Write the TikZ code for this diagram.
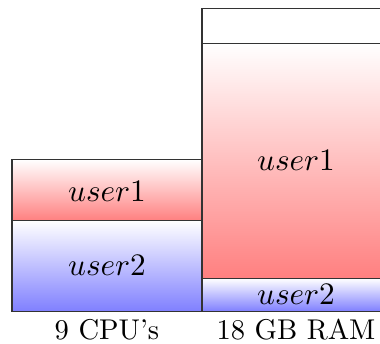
\documentclass[tikz,border=0pt]{standalone}
\begin{document}
\begin{tikzpicture}[x=0.35pt,y=-0.35pt,
  seg/.style={draw=black!80, line width=0.4pt},
  redseg/.style={seg, top color=white, bottom color=red!50},
  blueseg/.style={seg, top color=white, bottom color=blue!50},
  emptyseg/.style={seg, fill=white},
  lbl/.style={inner sep=0pt, anchor=base},
  userlbl/.style={lbl, font=\fontsize{11.1}{13}\selectfont}]
\useasboundingbox (0,0) rectangle (380,344);
\clip (0,0) rectangle (380,344);
% CPU bar
\shade[redseg] (12,159.7) rectangle (202,220.7);
\shade[blueseg] (12,220.7) rectangle (202,311.3);
% RAM bar
\path[emptyseg] (202,8.3) rectangle (390,43.3);
\shade[redseg] (202,43.3) rectangle (390,278.3);
\shade[blueseg] (202,278.3) rectangle (390,311.3);
% labels
\node[userlbl] (cpuU1) at (107,201.7) {$user1$};
\node[userlbl] (cpuU2) at (107,276) {$user2$};
\node[userlbl] (ramU1) at (296,170.7) {$user1$};
\node[userlbl] (ramU2) at (296,304.3) {$user2$};
\node[lbl] (cpu) at (107,340) {9 CPU’s};
\node[lbl] (ram) at (296,340) {18 GB RAM};
\end{tikzpicture}
\end{document}
